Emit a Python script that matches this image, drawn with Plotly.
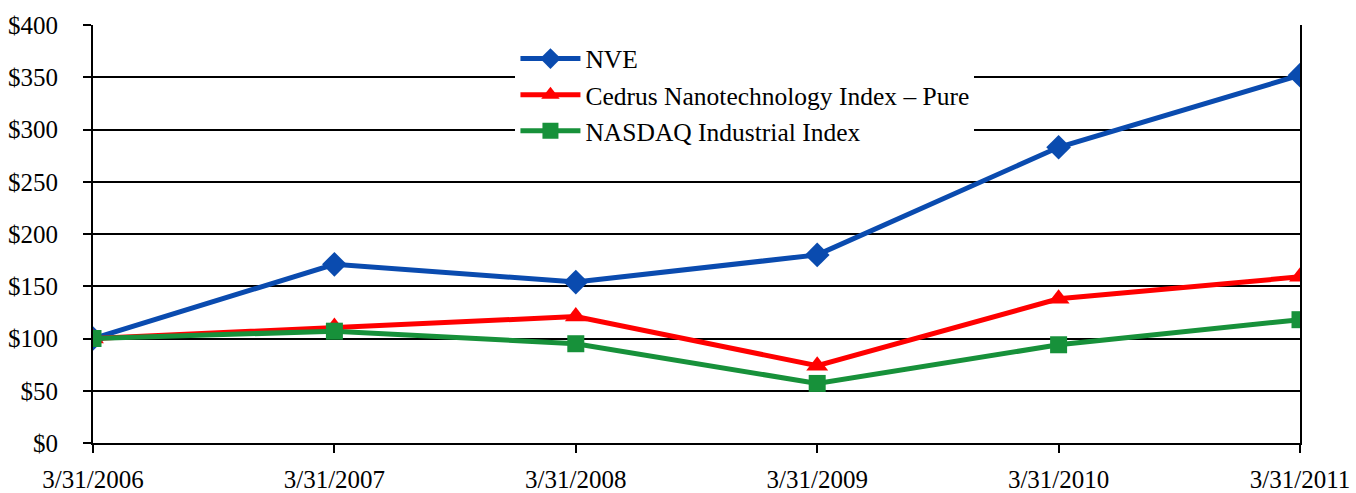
import plotly.graph_objects as go

dates = ["3/31/2006", "3/31/2007", "3/31/2008", "3/31/2009", "3/31/2010", "3/31/2011"]
nve = [100, 171, 154, 180, 283, 352]
cedrus = [100, 111, 121, 74, 138, 159]
nasdaq = [100, 107, 95, 57, 94, 118]

FONT = "Liberation Serif, Times New Roman, serif"

fig = go.Figure()
fig.add_trace(go.Scatter(x=dates, y=nve, name="NVE", mode="lines+markers",
                         line=dict(color="#0A4BAF", width=5),
                         marker=dict(symbol="diamond", size=19, color="#0A4BAF")))
fig.add_trace(go.Scatter(x=dates, y=cedrus, name="Cedrus Nanotechnology Index – Pure", mode="lines+markers",
                         line=dict(color="#FF0000", width=5),
                         marker=dict(symbol="triangle-up", size=19, color="#FF0000")))
fig.add_trace(go.Scatter(x=dates, y=nasdaq, name="NASDAQ Industrial Index", mode="lines+markers",
                         line=dict(color="#17913A", width=5),
                         marker=dict(symbol="square", size=17, color="#17913A")))

fig.update_layout(
    width=1356, height=493,
    margin=dict(l=93, r=56, t=25, b=50),
    paper_bgcolor="white", plot_bgcolor="white",
    font=dict(family=FONT, size=25, color="black"),
    showlegend=True,
    legend=dict(x=0.350, y=0.975, xanchor="left", yanchor="top",
                bgcolor="white", borderwidth=0,
                font=dict(family=FONT, size=25.5, color="black"),
                itemwidth=60, tracegroupgap=0),
    xaxis=dict(type="category", range=[0, 5], showgrid=False, automargin=False,
               showline=True, linecolor="black", linewidth=2,
               ticks="outside", ticklen=8, tickwidth=2, tickcolor="black",
               ticklabelstandoff=5,
               tickfont=dict(family=FONT, size=25, color="black")),
    yaxis=dict(range=[0, 400], dtick=50, tickprefix="$", automargin=False,
               showgrid=True, gridcolor="black", gridwidth=2,
               showline=True, linecolor="black", linewidth=2, mirror=True,
               ticks="outside", ticklen=8, tickwidth=2, tickcolor="black",
               ticklabelstandoff=20, zeroline=False,
               tickfont=dict(family=FONT, size=25, color="black")),
)

fig.write_html("out.html", config={"displayModeBar": False},
               post_script="document.body.style.margin='0';document.body.style.overflow='hidden';")
